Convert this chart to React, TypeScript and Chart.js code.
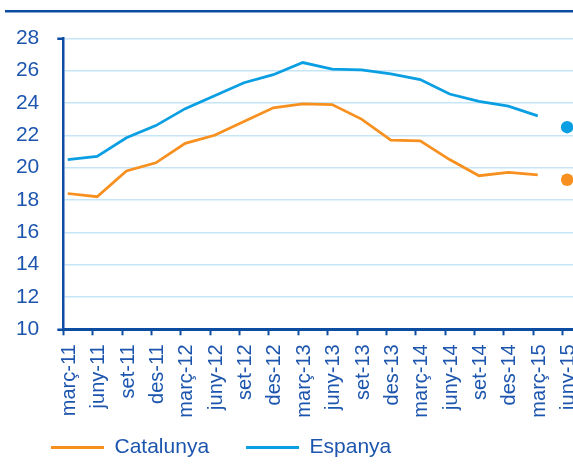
import React, { useEffect, useRef } from "react";
import { Chart, registerables } from "chart.js";

Chart.register(...registerables);

// ---- data ----
const categories = [
  "març-11", "juny-11", "set-11", "des-11",
  "març-12", "juny-12", "set-12", "des-12",
  "març-13", "juny-13", "set-13", "des-13",
  "març-14", "juny-14", "set-14", "des-14",
  "març-15", "juny-15",
];
const catalunya = [
  18.4, 18.2, 19.8, 20.3, 21.5, 22.0, 22.85, 23.7,
  23.95, 23.9, 23.0, 21.7, 21.65, 20.5, 19.5, 19.7, 19.55, 19.25,
];
const espanya = [
  20.5, 20.7, 21.85, 22.6, 23.65, 24.45, 25.25, 25.75,
  26.5, 26.1, 26.05, 25.8, 25.45, 24.55, 24.1, 23.8, 23.2, 22.5,
];
const yTicks = [10, 12, 14, 16, 18, 20, 22, 24, 26, 28];
const seriesNames = ["Catalunya", "Espanya"];

// ---- styles ----
const ORANGE = "#f7901e";
const BLUE = "#0a9ee2";
const AXIS = "#0c4da2";
const TEXT = "#1c55ad";
const GRID = "#c6e6f7";
const FONT = "'Liberation Sans', Arial, sans-serif";

const dotIndex = categories.length - 1;
const xShift = 0.15;

const ruleLine = {
  id: "ruleLine",
  afterLayout(chart: any) {
    // let rotated x labels extend below the axis box (no clipping)
    const xs = chart.scales.x;
    if (xs) xs.bottom = chart.height;
  },
  beforeDraw(chart: any) {
    const ctx = chart.ctx;
    ctx.save();
    ctx.strokeStyle = AXIS;
    ctx.lineWidth = 2.5;
    ctx.beginPath();
    ctx.moveTo(5, 11.3);
    ctx.lineTo(chart.width, 11.3);
    ctx.stroke();
    ctx.restore();
  },
};

function makeDataset(label: string, values: number[], color: string) {
  return {
    label,
    data: values.map((v, i) => ({ x: i, y: v })),
    borderColor: color,
    backgroundColor: color,
    borderWidth: 2.75,
    pointRadius: (c: any) => (c.dataIndex === dotIndex ? 6.2 : 0),
    pointHoverRadius: 0,
    pointBorderWidth: 0,
    pointBackgroundColor: color,
    tension: 0,
    clip: false,
    segment: {
      borderColor: (c: any) => (c.p1DataIndex === dotIndex ? "transparent" : color),
    },
  };
}

export default function App() {
  const ref = useRef<HTMLCanvasElement | null>(null);

  useEffect(() => {
    if (!ref.current) return;
    const chart = new Chart(ref.current, {
      type: "line",
      data: {
        datasets: [
          makeDataset(seriesNames[0], catalunya, ORANGE),
          makeDataset(seriesNames[1], espanya, BLUE),
        ],
      },
      plugins: [ruleLine],
      options: {
        animation: false,
        responsive: false,
        events: [],
        layout: { autoPadding: false, padding: { top: 38.3, left: 14, right: 0, bottom: 0 } },
        scales: {
          x: {
            type: "linear",
            min: -xShift,
            max: 17.2,
            afterBuildTicks: (scale: any) => {
              scale.ticks = categories.map((_, i) => ({ value: i - xShift }));
            },
            afterFit: (scale: any) => {
              scale.paddingLeft = 0;
              scale.paddingRight = 0;
              scale.height = 70.7;
            },
            ticks: {
              autoSkip: false,
              maxRotation: 90,
              minRotation: 90,
              padding: 9,
              labelOffset: 6,
              color: TEXT,
              font: { family: FONT, size: 20 },
              callback: (_v: any, i: number) => categories[i],
            },
            grid: {
              drawOnChartArea: false,
              drawTicks: true,
              tickLength: 6,
              tickColor: AXIS,
              tickWidth: 2,
            },
            border: { color: AXIS, width: 3 },
          },
          y: {
            min: 10,
            max: 28,
            afterBuildTicks: (scale: any) => {
              scale.ticks = yTicks.map((v) => ({ value: v }));
            },
            afterFit: (scale: any) => {
              scale.width = 49.3;
            },
            ticks: {
              padding: 18,
              color: TEXT,
              font: { family: FONT, size: 21 },
            },
            grid: {
              color: (c: any) => (c.tick && c.tick.value === 10 ? "transparent" : GRID),
              lineWidth: 1.5,
              tickLength: 6,
              tickWidth: 2.5,
              tickColor: (c: any) =>
                c.tick && (c.tick.value === 28 || c.tick.value === 10) ? AXIS : "transparent",
            },
            border: { color: AXIS, width: 2.5 },
          },
        },
        plugins: {
          legend: {
            position: "bottom",
            align: "start",
            labels: {
              boxWidth: 53,
              boxHeight: 3,
              padding: 37,
              color: TEXT,
              font: { family: FONT, size: 21 },
              generateLabels: (chart: any) =>
                chart.data.datasets.map((d: any, i: number) => ({
                  text: d.label,
                  fillStyle: d.borderColor,
                  strokeStyle: d.borderColor,
                  lineWidth: 0,
                  hidden: false,
                  datasetIndex: i,
                  fontColor: TEXT,
                })),
            },
          },
          tooltip: { enabled: false },
          title: { display: false },
        },
      } as any,
    });
    return () => chart.destroy();
  }, []);

  return (
    <div style={{ position: "fixed", left: 0, top: 0, width: 573, height: 468, background: "#fff" }}>
      <canvas ref={ref} width={573} height={468} style={{ display: "block" }} />
    </div>
  );
}
